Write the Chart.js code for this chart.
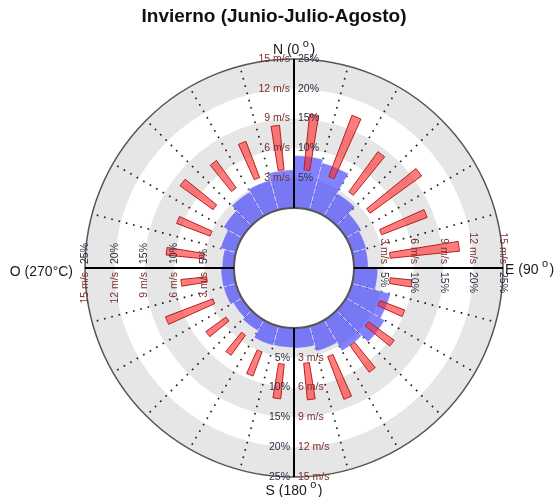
<!DOCTYPE html>
<html>
<head>
<meta charset="utf-8">
<script src="https://cdn.jsdelivr.net/npm/chart.js@4/dist/chart.umd.min.js"></script>
<style>
html,body{margin:0;padding:0;background:#ffffff;}
#wrap{width:554px;height:497px;}
</style>
</head>
<body>
<div id="wrap"><canvas id="c" width="554" height="497"></canvas></div>
<script>
// ---- data ----
const sectorLabels = ['0-15','15-30','30-45','45-60','60-75','75-90','90-105','105-120','120-135','135-150','150-165','165-180',
  '180-195','195-210','210-225','225-240','240-255','255-270','270-285','285-300','300-315','315-330','330-345','345-360'];
// frequency of each 15° direction sector (%)
const frequencyPct = [8.8, 8.2, 4.4, 2.9, 2.5, 2.4, 4.0, 6.7, 7.5, 6.0, 4.4, 3.4,
  3.3, 3.4, 2.1, 1.7, 2.2, 2.2, 2.0, 2.7, 3.6, 4.7, 5.2, 6.4];
// wind speed range for each sector (m/s)
const speedLow  = [3.9, 3.8, 3.4, 3.4, 3.4, 3.7, 3.7, 3.2, 3.2, 3.6, 3.5, 3.6,
  3.7, 3.0, 2.3, 2.4, 2.7, 2.8, 3.1, 3.0, 4.0, 3.9, 3.7, 3.9];
const speedHigh = [9.5, 10.4, 8.4, 9.8, 8.3, 10.7, 5.9, 5.9, 6.4, 6.9, 8.1, 7.3,
  7.2, 5.6, 4.8, 4.9, 7.8, 5.4, 6.9, 6.6, 8.1, 7.3, 7.6, 8.4];
const pctTicks = [5, 10, 15, 20, 25];
const speedTicks = [3, 6, 9, 12, 15];
const chartTitle = 'Invierno (Junio-Julio-Agosto)';

// speed axis shares the radial axis: 15 m/s <-> 25 %
const speedToPct = v => v * pctTicks[pctTicks.length - 1] / speedTicks[speedTicks.length - 1];
const PCT_MAX = 25;
const R_MIN = -10.067; // leaves the white hole in the middle (0 % sits on the inner circle)

const FONT = '"Liberation Sans", Arial, Helvetica, sans-serif';
const SPEED_COLOR = '#7a2d2d';
const PCT_COLOR = '#2b2b40';

function rotText(ctx, x, y, rot, txt, align, dx, color) {
  ctx.save();
  ctx.translate(x, y);
  ctx.rotate(rot);
  ctx.textAlign = align;
  ctx.textBaseline = 'middle';
  ctx.fillStyle = color;
  ctx.fillText(txt, dx, 0);
  ctx.restore();
}

// draws "X (n" + superscript o + ")"
function dirLabel(ctx, main, deg, x, y, align) {
  const big = '14px ' + FONT, small = '11px ' + FONT;
  ctx.save();
  ctx.fillStyle = '#1a1a1a';
  ctx.textBaseline = 'alphabetic';
  ctx.textAlign = 'left';
  const p1 = main + ' (' + deg;
  ctx.font = big; const w1 = ctx.measureText(p1).width; const w3 = ctx.measureText(')').width;
  ctx.font = small; const w2 = ctx.measureText('o').width;
  const gap = 3.5;
  const total = w1 + gap + w2 + 1.5 + w3;
  let x0 = align === 'center' ? x - total / 2 : (align === 'right' ? x - total : x);
  ctx.font = big; ctx.fillText(p1, x0, y);
  ctx.font = small; ctx.fillText('o', x0 + w1 + gap, y - 7);
  ctx.font = big; ctx.fillText(')', x0 + w1 + gap + w2 + 1.5, y);
  ctx.restore();
}

// empty layout box on the left: shifts the rose to the right while the title stays centred on the canvas
const leftSpacer = {
  id: 'leftSpacer',
  beforeInit(chart) {
    Chart.layouts.addBox(chart, {
      position: 'left',
      fullSize: false,
      weight: 100,
      options: {},
      left: 0, top: 0, right: 0, bottom: 0, width: 0, height: 0,
      isHorizontal() { return false; },
      update(maxWidth, maxHeight) { this.width = 40; this.height = maxHeight; },
      draw() {}
    });
  }
};

const roseDecor = {
  id: 'roseDecor',
  beforeDraw(chart) {
    const s = chart.scales.r, ctx = chart.ctx;
    const cx = s.xCenter, cy = s.yCenter;
    ctx.save();
    // alternating grey / white bands
    const bands = [[0, 5], [10, 15], [20, 25]];
    ctx.fillStyle = '#e6e6e6';
    bands.forEach(([a, b]) => {
      ctx.beginPath();
      ctx.arc(cx, cy, s.getDistanceFromCenterForValue(b), 0, Math.PI * 2);
      ctx.arc(cx, cy, s.getDistanceFromCenterForValue(a), 0, Math.PI * 2, true);
      ctx.fill();
    });
    ctx.restore();
  },
  afterDatasetUpdate(chart, args) {
    if (args.index !== 1) return;
    const s = chart.scales.r;
    const half = (3.4 * Math.PI / 180) / 2;
    args.meta.data.forEach((arc, i) => {
      const mid = (arc.startAngle + arc.endAngle) / 2;
      arc.startAngle = mid - half;
      arc.endAngle = mid + half;
      arc.innerRadius = s.getDistanceFromCenterForValue(speedToPct(speedLow[i]));
    });
  },
  afterDatasetsDraw(chart) {
    const s = chart.scales.r, ctx = chart.ctx;
    const cx = s.xCenter, cy = s.yCenter;
    const r0 = s.getDistanceFromCenterForValue(0);
    const rMax = s.getDistanceFromCenterForValue(PCT_MAX);
    ctx.save();
    // outer circle
    ctx.beginPath(); ctx.arc(cx, cy, rMax, 0, Math.PI * 2);
    ctx.strokeStyle = '#555'; ctx.lineWidth = 1.5; ctx.stroke();
    // inner hole
    ctx.beginPath(); ctx.arc(cx, cy, r0, 0, Math.PI * 2);
    ctx.fillStyle = '#ffffff'; ctx.fill();
    ctx.strokeStyle = '#555'; ctx.lineWidth = 2; ctx.stroke();
    // cardinal axes
    ctx.strokeStyle = '#000'; ctx.lineWidth = 2;
    [0, 6, 12, 18].forEach(i => {
      const a = s.getIndexAngle(i) - Math.PI / 2;
      ctx.beginPath();
      ctx.moveTo(cx + r0 * Math.cos(a), cy + r0 * Math.sin(a));
      ctx.lineTo(cx + rMax * Math.cos(a), cy + rMax * Math.sin(a));
      ctx.stroke();
    });
    // tick labels on the four axes
    ctx.font = '10.5px ' + FONT;
    const g = 4;
    pctTicks.forEach((p, k) => {
      const r = s.getDistanceFromCenterForValue(p);
      const pt = p + '%', st = speedTicks[k] + ' m/s';
      rotText(ctx, cx, cy - r, 0, st, 'right', -g, SPEED_COLOR);
      rotText(ctx, cx, cy - r, 0, pt, 'left', g, PCT_COLOR);
      rotText(ctx, cx + r, cy, Math.PI / 2, st, 'right', -g, SPEED_COLOR);
      rotText(ctx, cx + r, cy, Math.PI / 2, pt, 'left', g, PCT_COLOR);
      rotText(ctx, cx, cy + r, 0, pt, 'right', -g, PCT_COLOR);
      rotText(ctx, cx, cy + r, 0, st, 'left', g, SPEED_COLOR);
      rotText(ctx, cx - r, cy, -Math.PI / 2, pt, 'left', g, PCT_COLOR);
      rotText(ctx, cx - r, cy, -Math.PI / 2, st, 'right', -g, SPEED_COLOR);
    });
    // direction names
    dirLabel(ctx, 'N', '0', cx, cy - rMax - 5, 'center');
    dirLabel(ctx, 'S', '180', cx, cy + rMax + 18, 'center');
    dirLabel(ctx, 'E', '90', cx + rMax + 2, cy + 6, 'left');
    ctx.font = '14px ' + FONT; ctx.fillStyle = '#1a1a1a';
    ctx.textAlign = 'right'; ctx.textBaseline = 'alphabetic';
    ctx.fillText('O (270°C)', cx - rMax - 12, cy + 8);
    ctx.restore();
  }
};

new Chart(document.getElementById('c'), {
  type: 'polarArea',
  data: {
    labels: sectorLabels,
    datasets: [
      {
        label: 'Frecuencia (%)',
        data: frequencyPct,
        backgroundColor: 'rgba(40,40,255,0.58)',
        borderColor: 'rgba(255,255,255,0.45)',
        borderWidth: 1,
        order: 2
      },
      {
        label: 'Velocidad (m/s)',
        data: speedHigh.map(speedToPct),
        backgroundColor: 'rgba(255,45,45,0.62)',
        borderColor: '#b52020',
        borderWidth: 1,
        order: 1
      }
    ]
  },
  options: {
    responsive: false,
    animation: false,
    devicePixelRatio: 1,
    layout: { padding: { left: 0, right: 6, top: 0, bottom: 20 } },
    plugins: {
      legend: { display: false },
      tooltip: { enabled: false },
      title: {
        display: true,
        text: chartTitle,
        color: '#111',
        font: { family: FONT, size: 19, weight: 'bold' },
        padding: { top: 5, bottom: 31.2 }
      }
    },
    scales: {
      r: {
        min: R_MIN,
        max: PCT_MAX,
        startAngle: 0,
        ticks: { display: false },
        grid: { display: false },
        pointLabels: { display: false },
        angleLines: {
          display: true,
          color: '#222',
          lineWidth: c => (c.index % 6 === 0 ? 0 : 1.7),
          borderDash: [1.7, 5.8]
        }
      }
    }
  },
  plugins: [leftSpacer, roseDecor]
});
</script>
</body>
</html>
